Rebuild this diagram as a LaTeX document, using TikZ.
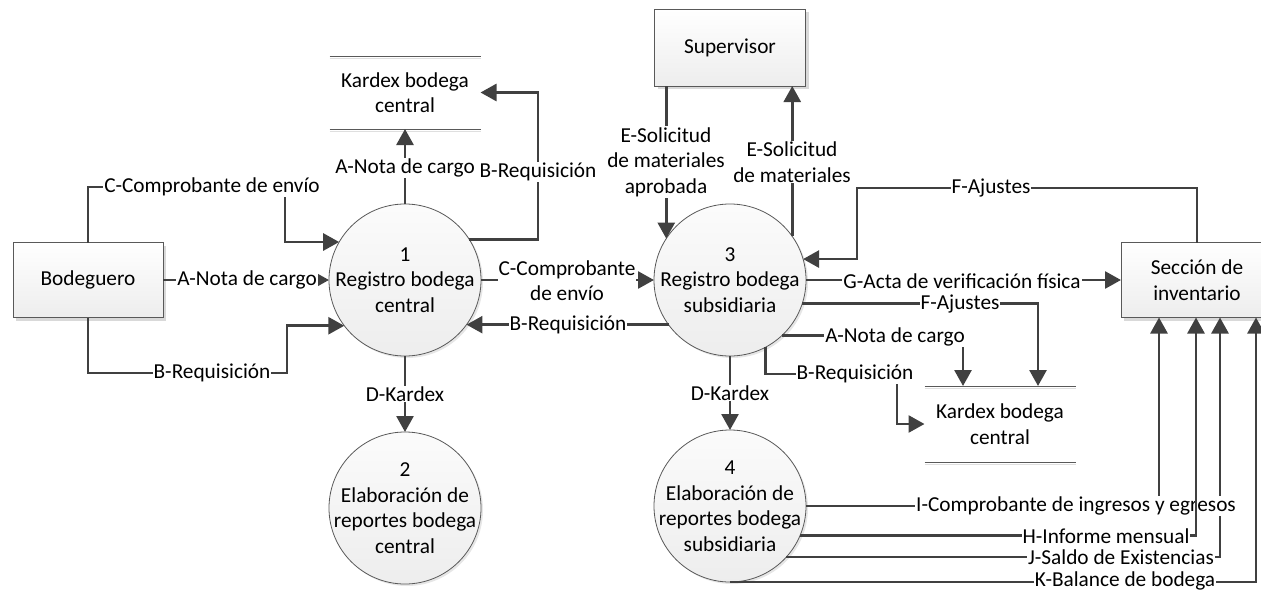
\documentclass[tikz,border=0pt]{standalone}
\usepackage{fontspec}
\setmainfont{Carlito}
\usetikzlibrary{arrows.meta,shadows,calc}
\definecolor{linec}{HTML}{404040}
\definecolor{edgec}{HTML}{595959}
\tikzset{
 flow/.style={draw=linec, line width=2.7pt, -{Triangle[length=16pt,width=17pt]}},
 lbl/.style={fill=white, inner sep=1pt, align=center, text=black},
 ent/.style={draw=edgec, line width=0.8pt, top color=white, bottom color=gray!14,
   minimum width=150pt, minimum height=75pt, align=center, inner sep=0pt, outer sep=0pt,
   drop shadow={shadow xshift=3pt, shadow yshift=-3pt, opacity=0.3}},
 proc/.style={circle, draw=edgec, line width=0.8pt, top color=gray!3, bottom color=gray!14,
   minimum size=152pt, inner sep=0pt, outer sep=0pt,
   drop shadow={shadow xshift=2pt, shadow yshift=-2pt, opacity=0.2}},
 ptext/.style={align=center, inner sep=0pt},
 store/.style={minimum width=151pt, inner sep=0pt, outer sep=0pt, align=center},
 storeline/.style={draw=edgec, line width=1pt},
 storeshade/.style={draw=gray!25, line width=1pt},
}
\begin{document}
\begin{tikzpicture}[x=1pt,y=-1pt,font=\fontsize{21.3}{25.5}\selectfont]
\path[use as bounding box] (0,0) rectangle (1261,592);

% entities
\node[ent] (bod) at (88,280) {Bodeguero};
\node[ent, minimum width=151pt, minimum height=77pt] (sup) at (730,47.5) {Supervisor};
\node[ent, minimum width=152pt] (sec) at (1197,280) {Sección de\\inventario};

% processes
\node[proc] (p1) at (405,280) {};
\node[ptext] (t1) at (p1) {1\\Registro bodega\\central};
\node[proc] (p2) at (405,508) {};
\node[ptext] (t2) at (p2) {2\\Elaboración de\\reportes bodega\\central};
\node[proc] (p3) at (730,280) {};
\node[ptext] (t3) at (p3) {3\\Registro bodega\\subsidiaria};
\node[proc] (p4) at (730,506) {};
\node[ptext] (t4) at (p4) {4\\Elaboración de\\reportes bodega\\subsidiaria};

% data stores
\node[store, minimum height=73pt] (k1) at (405,92.5) {Kardex bodega\\central};
\draw[storeshade] ([yshift=-2pt]k1.north west) -- ([yshift=-2pt]k1.north east);
\draw[storeshade] ([yshift=-2pt]k1.south west) -- ([yshift=-2pt]k1.south east);
\draw[storeline] (k1.north west) -- (k1.north east);
\draw[storeline] (k1.south west) -- (k1.south east);
\node[store, minimum height=76pt] (k2) at (1000,424) {Kardex bodega\\central};
\draw[storeshade] ([yshift=-2pt]k2.north west) -- ([yshift=-2pt]k2.north east);
\draw[storeshade] ([yshift=-2pt]k2.south west) -- ([yshift=-2pt]k2.south east);
\draw[storeline] (k2.north west) -- (k2.north east);
\draw[storeline] (k2.south west) -- (k2.south east);

% Bodeguero -> process 1
\draw[flow] (bod.north) |- (285,187) |- (p1.150);
\node[lbl] (lc1) at (212,187) {C-Comprobante de envío};
\draw[flow] (bod.east) -- (p1.west);
\node[lbl] (la1) at (247,280) {A-Nota de cargo};
\draw[flow] (bod.south) |- (287,373) |- (p1.217.2);
\node[lbl] (lb1) at (212,373) {B-Requisición};

% process 1 -> kardex central
\draw[flow] (p1.north) -- (k1.south);
\node[lbl] (la2) at (405,168) {A-Nota de cargo};
\draw[flow] (p1.32) -| (538,170) |- (k1.east);
\node[lbl] (lb2) at (538,172) {B-Requisición};

% process 1 <-> process 3
\draw[flow] (p1.east) -- (p3.west);
\node[lbl] (lc2) at (567,280.5) {C-Comprobante\\de envío};
\draw[flow] (p3.216.3) -- (p1.-36.3);
\node[lbl] (lb3) at (568,325) {B-Requisición};

% process 1 -> process 2
\draw[flow] (p1.south) -- (p2.north);
\node[lbl] (ld1) at (405,394) {D-Kardex};

% supervisor
\draw[flow] (sup.south -| p3.147.4) -- (p3.147.4);
\node[lbl] (le1) at (666,162) {E-Solicitud\\de materiales\\aprobada};
\draw[flow] (p3.35.4) -- (p3.35.4 |- sup.south);
\node[lbl] (le2) at (792,162) {E-Solicitud\\de materiales};

% seccion de inventario <-> process 3
\draw[flow] (sec.north) |- (857,188) |- (p3.16.8);
\node[lbl] (lf1) at (991,188) {F-Ajustes};
\draw[flow] (p3.-18.4) -| ([xshift=38pt]k2.north);
\node[lbl] (lf2) at (960,304) {F-Ajustes};
\draw[flow] (p3.east) -- (sec.west);
\node[lbl] (lg) at (962,281) {G-Acta de verificación física};

% process 3 -> kardex (lower)
\draw[flow] (p3.-47.5) -| ([xshift=-37pt]k2.north);
\node[lbl] (la3) at (895,337) {A-Nota de cargo};
\draw[flow] (p3.-62.6) |- (897,374) |- (k2.west);
\node[lbl] (lb4) at (855,374) {B-Requisición};

% process 3 -> process 4
\draw[flow] (p3.south) -- (p4.north);
\node[lbl] (ld2) at (730,393) {D-Kardex};

% process 4 -> seccion de inventario
\draw[flow] (p4.south) -| ([xshift=59pt]sec.south);
\draw[flow] (p4.-42.2) -| ([xshift=23pt]sec.south);
\draw[flow] (p4.east) -| ([xshift=-38pt]sec.south);
\node[lbl] (li) at (1076,506) {I-Comprobante de ingresos y egresos};
\draw[flow] (p4.-23.2) -| ([xshift=-1pt]sec.south);
\node[lbl] (lh) at (1106,536) {H-Informe mensual};
\node[lbl] (lj) at (1121,557) {J-Saldo de Existencias};
\node[lbl] (lk) at (1125,581) {K-Balance de bodega};
\end{tikzpicture}
\end{document}
